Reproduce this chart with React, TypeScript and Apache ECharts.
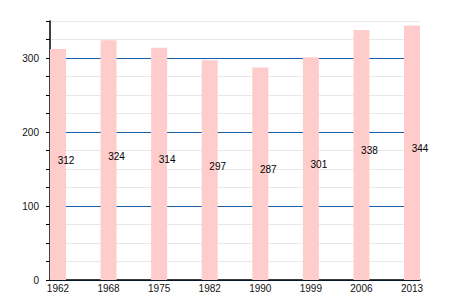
import React, { useEffect, useRef } from "react";
import * as echarts from "echarts";

const years = ["1962", "1968", "1975", "1982", "1990", "1999", "2006", "2013"];
const values = [312, 324, 314, 297, 287, 301, 338, 344];
const yTicks = [0, 100, 200, 300];

export default function App() {
  const ref = useRef<HTMLDivElement>(null);
  useEffect(() => {
    const chart = echarts.init(ref.current!, null, { renderer: "svg" });
    const font = "'Liberation Sans', Arial, sans-serif";
    chart.setOption({
      animation: false,
      grid: { left: 50, right: 30, top: 21, bottom: 20 },
      xAxis: {
        type: "value",
        min: -0.158,
        max: 7.158,
        axisLine: { show: true, onZero: false, lineStyle: { color: "#000", width: 1.5 } },
        axisTick: { show: false },
        splitLine: { show: false },
        axisLabel: {
          customValues: years.map((_, i) => i),
          formatter: (v: number) => years[Math.round(v)] ?? "",
          color: "#111",
          fontSize: 10,
          fontFamily: font,
          margin: 3,
        },
      },
      yAxis: {
        type: "value",
        min: 0,
        max: 350,
        interval: 25,
        axisLine: { show: true, onZero: false, lineStyle: { color: "#000", width: 1.5 } },
        axisTick: { show: true, length: 4, lineStyle: { color: "#000" } },
        axisLabel: {
          formatter: (v: number) => (yTicks.includes(v) ? String(v) : ""),
          color: "#111",
          fontSize: 10,
          fontFamily: font,
          margin: 11,
        },
        splitLine: {
          show: true,
          lineStyle: {
            color: ["#1b5ea8", "#e8e8e8", "#e8e8e8", "#e8e8e8"],
            width: 1,
          },
        },
      },
      series: [
        {
          type: "bar",
          barWidth: 16,
          data: values.map((v, i) => [i, v]),
          itemStyle: { color: "#ffcccc" },
          label: {
            show: true,
            position: "inside",
            offset: [8, -4],
            formatter: (p: any) => String(p.value[1]),
            color: "#000",
            fontSize: 10,
            fontFamily: font,
          },
        },
      ],
    });
    return () => chart.dispose();
  }, []);
  return (
    <div
      ref={ref}
      style={{ position: "fixed", left: 0, top: 0, width: 450, height: 300, background: "#fff" }}
    />
  );
}
